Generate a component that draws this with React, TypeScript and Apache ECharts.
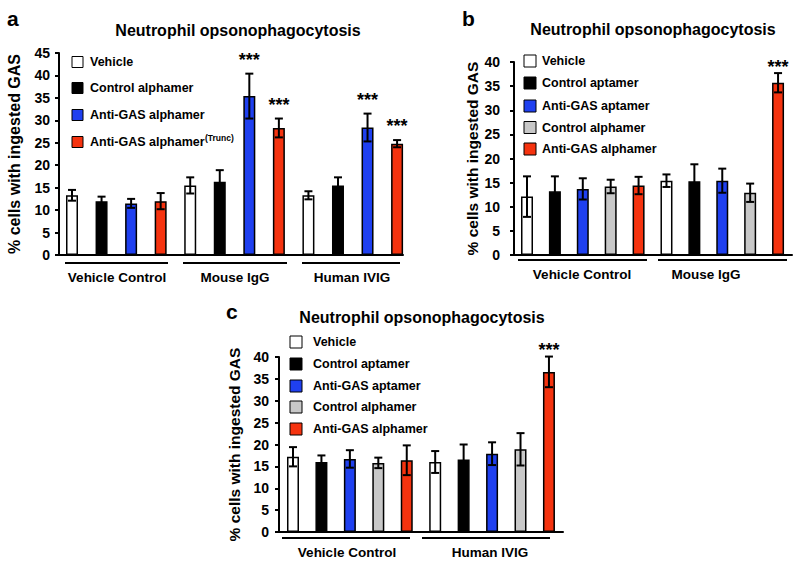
import React, { useEffect, useRef } from "react";
import * as echarts from "echarts";

const FONT = "'Liberation Sans', Arial, Helvetica, sans-serif";

// ---------- Data ----------
const TITLE = "Neutrophil opsonophagocytosis";
const Y_NAME = "% cells with ingested GAS";

// Panel a
const aLegend = ["Vehicle", "Control alphamer", "Anti-GAS alphamer", "Anti-GAS alphamer"];
const aLegendSup = ["", "", "", "(Trunc)"];
const aColors = ["#ffffff", "#000000", "#1f40f0", "#f5330f"];
const aGroups = ["Vehicle Control", "Mouse IgG", "Human IVIG"];
const aBarLegendIdx = [0, 1, 2, 3, 0, 1, 2, 3, 0, 1, 2, 3];
const aValues = [13.3, 12.0, 11.5, 12.0, 15.5, 16.3, 35.4, 28.3, 13.3, 15.5, 28.4, 24.8];
const aErrors = [1.2, 1.0, 1.0, 1.8, 1.8, 2.6, 5.0, 2.1, 0.9, 1.8, 3.1, 0.8];
const aStars = [0, 0, 0, 0, 0, 0, 1, 1, 0, 0, 1, 1];
const aTicks = [0, 5, 10, 15, 20, 25, 30, 35, 40, 45];

// Panel b
const bLegend = ["Vehicle", "Control aptamer", "Anti-GAS aptamer", "Control alphamer", "Anti-GAS alphamer"];
const bColors = ["#ffffff", "#000000", "#1f40f0", "#c8c8c8", "#f5330f"];
const bGroups = ["Vehicle Control", "Mouse IgG"];
const bBarLegendIdx = [0, 1, 2, 3, 4, 0, 1, 2, 3, 4];
const bValues = [12.1, 13.2, 13.7, 14.2, 14.4, 15.4, 15.3, 15.4, 12.9, 35.7];
const bErrors = [4.2, 3.1, 2.2, 1.4, 1.8, 1.3, 3.5, 2.5, 1.9, 2.0];
const bStars = [0, 0, 0, 0, 0, 0, 0, 0, 0, 1];
const bTicks = [0, 5, 10, 15, 20, 25, 30, 35, 40];

// Panel c
const cLegend = ["Vehicle", "Control aptamer", "Anti-GAS aptamer", "Control alphamer", "Anti-GAS alphamer"];
const cColors = ["#ffffff", "#000000", "#1f40f0", "#c8c8c8", "#f5330f"];
const cGroups = ["Vehicle Control", "Human IVIG"];
const cBarLegendIdx = [0, 1, 2, 3, 4, 0, 1, 2, 3, 4];
const cValues = [17.2, 16.0, 16.7, 15.8, 16.4, 16.0, 16.6, 17.9, 18.9, 36.6];
const cErrors = [2.2, 1.5, 2.0, 1.2, 3.4, 2.5, 3.4, 2.6, 3.7, 3.5];
const cStars = [0, 0, 0, 0, 0, 0, 0, 0, 0, 1];
const cTicks = [0, 5, 10, 15, 20, 25, 30, 35, 40];

// ---------- Layout ----------
const grids = [
  { left: 59, top: 53, width: 344, height: 202, xmin: -0.44, xmax: 11.2, ymax: 45, nameGap: 37, nameSize: 16, starOff: 14, labelMargin: 9 },
  { left: 514, top: 62, width: 278, height: 193, xmin: -0.466, xmax: 9.5, ymax: 40, nameGap: 34, nameSize: 15.5, starOff: 6, labelMargin: 14 },
  { left: 279, top: 357, width: 284, height: 175, xmin: -0.492, xmax: 9.494, ymax: 40, nameGap: 37, nameSize: 15.5, starOff: 7, labelMargin: 10 },
];

function barSeries(gi: number, values: number[], idx: number[], colors: string[]) {
  return {
    type: "bar",
    xAxisIndex: gi,
    yAxisIndex: gi,
    barWidth: 12,
    z: 2,
    data: values.map((v, i) => ({
      value: [i, v],
      itemStyle: { color: colors[idx[i]], borderColor: "#000", borderWidth: 1.5 },
    })),
  };
}

function errSeries(gi: number, values: number[], errors: number[], stars: number[], starOff: number) {
  return {
    type: "custom",
    xAxisIndex: gi,
    yAxisIndex: gi,
    z: 5,
    data: values.map((v, i) => [i, v, errors[i], stars[i]]),
    renderItem: (_p: any, api: any) => {
      const x = api.value(0);
      const v = api.value(1);
      const e = api.value(2);
      const s = api.value(3);
      const top = api.coord([x, v + e]);
      const bot = api.coord([x, v - e]);
      const cx = top[0];
      const style = { stroke: "#000", lineWidth: 2 };
      const children: any[] = [
        { type: "line", shape: { x1: cx, y1: top[1], x2: cx, y2: bot[1] }, style },
        { type: "line", shape: { x1: cx - 4, y1: top[1], x2: cx + 4, y2: top[1] }, style },
        { type: "line", shape: { x1: cx - 4, y1: bot[1], x2: cx + 4, y2: bot[1] }, style },
      ];
      if (s) {
        children.push({
          type: "text",
          x: cx,
          y: top[1] - starOff,
          style: {
            text: "***",
            fill: "#000",
            font: `bold 18px ${FONT}`,
            align: "center",
            verticalAlign: "middle",
          },
        });
      }
      return { type: "group", children };
    },
  };
}

function legendGraphics(names: string[], sups: string[], colors: string[], x: number, rows: number[], size: number, textX: number, fontSize: number) {
  const out: any[] = [];
  names.forEach((n, i) => {
    out.push({
      type: "rect",
      shape: { x, y: rows[i] - size / 2, width: size, height: size },
      style: { fill: colors[i], stroke: "#000", lineWidth: 1 },
    });
    out.push({
      type: "text",
      x: textX,
      y: rows[i],
      style: { text: n, fill: "#000", font: `bold ${fontSize}px ${FONT}`, align: "left", verticalAlign: "middle" },
    });
    if (sups[i]) {
      out.push({
        type: "text",
        x: textX + 115,
        y: rows[i] - 4,
        style: { text: sups[i], fill: "#000", font: `bold 8.5px ${FONT}`, align: "left", verticalAlign: "middle" },
      });
    }
  });
  return out;
}

function textG(text: string, x: number, y: number, size: number, align = "center") {
  return {
    type: "text",
    x,
    y,
    style: { text, fill: "#000", font: `bold ${size}px ${FONT}`, align, verticalAlign: "middle" },
  };
}

function lineG(x1: number, x2: number, y: number) {
  return { type: "line", shape: { x1, y1: y, x2, y2: y }, style: { stroke: "#000", lineWidth: 2 } };
}

export default function App() {
  const ref = useRef<HTMLDivElement>(null);
  useEffect(() => {
    if (!ref.current) return;
    const chart = echarts.init(ref.current, undefined, { renderer: "svg" });
    const tickSets = [aTicks, bTicks, cTicks];
    const option: any = {
      animation: false,
      backgroundColor: "#ffffff",
      grid: grids.map((g) => ({ left: g.left, top: g.top, width: g.width, height: g.height, containLabel: false })),
      xAxis: grids.map((g, i) => ({
        type: "value",
        gridIndex: i,
        min: g.xmin,
        max: g.xmax,
        axisLine: { show: true, onZero: false, lineStyle: { color: "#000", width: 2 } },
        axisTick: { show: false },
        axisLabel: { show: false },
        splitLine: { show: false },
      })),
      yAxis: grids.map((g, i) => ({
        type: "value",
        gridIndex: i,
        min: 0,
        max: g.ymax,
        interval: tickSets[i][1] - tickSets[i][0],
        name: Y_NAME,
        nameLocation: "middle",
        nameRotate: 90,
        nameGap: g.nameGap,
        nameTextStyle: { fontFamily: FONT, fontWeight: "bold", fontSize: g.nameSize, color: "#000" },
        axisLine: { show: true, onZero: false, lineStyle: { color: "#000", width: 2 } },
        axisTick: { show: true, length: 4, lineStyle: { color: "#000", width: 2 } },
        axisLabel: { fontFamily: FONT, fontWeight: "bold", fontSize: 14, color: "#000", margin: g.labelMargin },
        splitLine: { show: false },
      })),
      series: [
        barSeries(0, aValues, aBarLegendIdx, aColors),
        errSeries(0, aValues, aErrors, aStars, grids[0].starOff),
        barSeries(1, bValues, bBarLegendIdx, bColors),
        errSeries(1, bValues, bErrors, bStars, grids[1].starOff),
        barSeries(2, cValues, cBarLegendIdx, cColors),
        errSeries(2, cValues, cErrors, cStars, grids[2].starOff),
      ],
      graphic: [
        // panel letters
        textG("a", 7, 18, 21, "left"),
        textG("b", 462, 18, 21, "left"),
        textG("c", 226, 311, 21, "left"),
        // titles
        textG(TITLE, 238, 30, 16),
        textG(TITLE, 653, 29, 16),
        textG(TITLE, 422, 317, 16),
        // legends
        ...legendGraphics(aLegend, aLegendSup, aColors, 72, [62, 88, 115, 142], 11, 90, 12.5),
        ...legendGraphics(bLegend, ["", "", "", "", ""], bColors, 524, [61, 83, 106, 127.5, 149], 12, 542, 12.5),
        ...legendGraphics(cLegend, ["", "", "", "", ""], cColors, 290, [342, 364, 386, 407, 429], 12, 313, 12.5),
        // group underlines + labels, panel a
        lineG(65, 168, 263),
        lineG(183, 287, 263),
        lineG(302, 400, 263),
        textG(aGroups[0], 117, 277, 13.5),
        textG(aGroups[1], 235, 277, 13.5),
        textG(aGroups[2], 352, 277, 13.5),
        // panel b
        lineG(518, 647, 260),
        lineG(658, 787, 260),
        textG(bGroups[0], 582, 274, 13.5),
        textG(bGroups[1], 706, 274, 13.5),
        // panel c
        lineG(282, 410, 538),
        lineG(422, 550, 538),
        textG(cGroups[0], 347, 552, 13.5),
        textG(cGroups[1], 490, 552, 13.5),
      ],
    };
    chart.setOption(option);
    return () => chart.dispose();
  }, []);
  return <div ref={ref} style={{ width: 800, height: 565, position: "absolute", left: 0, top: 0 }} />;
}
